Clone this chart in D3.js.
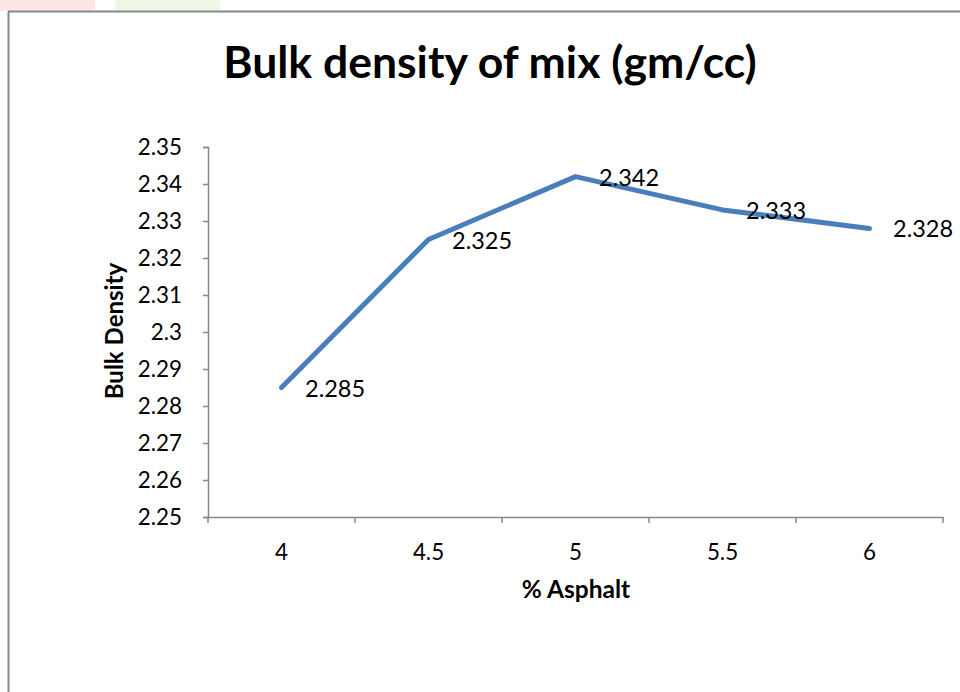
<!DOCTYPE html>
<html>
<head>
<meta charset="utf-8">
<script src="https://cdn.jsdelivr.net/npm/d3@7"></script>
<style>
  body { margin: 0; background: #fff; }
  svg { display: block; font-family: Lato, "Open Sans", sans-serif; }
</style>
</head>
<body>
<svg></svg>
<script>
var WIDTH = 960;
var HEIGHT = 692;

var categories = ["4", "4.5", "5", "5.5", "6"];
var density = [2.285, 2.325, 2.342, 2.333, 2.328];
var yTicks = [2.25, 2.26, 2.27, 2.28, 2.29, 2.3, 2.31, 2.32, 2.33, 2.34, 2.35];

var plotLeft = 208, plotRight = 943, plotTop = 147, plotBottom = 517;

var svg = d3.select("svg")
    .attr("width", WIDTH)
    .attr("height", HEIGHT);

// faint page bits above the frame
svg.append("rect").attr("x", 0).attr("y", 0).attr("width", 95).attr("height", 11).attr("fill", "#fde6e6");
svg.append("rect").attr("x", 115).attr("y", 0).attr("width", 105).attr("height", 11).attr("fill", "#eef7e6");

// frame
svg.append("line")
    .attr("x1", 8.5).attr("x2", 8.5).attr("y1", 11.5).attr("y2", HEIGHT)
    .attr("stroke", "#878787").attr("stroke-width", 2);
svg.append("line")
    .attr("x1", 8).attr("x2", WIDTH).attr("y1", 11.5).attr("y2", 11.5)
    .attr("stroke", "#878787").attr("stroke-width", 2);

var xScale = d3.scaleBand()
    .domain(categories)
    .range([plotLeft, plotRight]);

var yScale = d3.scaleLinear()
    .domain([2.25, 2.35])
    .range([plotBottom, plotTop]);

// y axis
var yAxis = d3.axisLeft(yScale)
    .tickValues(yTicks)
    .tickSize(5)
    .tickPadding(21)
    .tickFormat(function(d) { return d3.format("")(+d.toFixed(2)); });

var gy = svg.append("g")
    .attr("transform", "translate(" + plotLeft + ",0)")
    .call(yAxis);
gy.select(".domain").attr("stroke", "#898989").attr("stroke-width", 1.5);
gy.selectAll(".tick line").attr("stroke", "#898989").attr("stroke-width", 1.5);
gy.selectAll("text")
    .attr("font-size", 22.4)
    .attr("fill", "#000")
    .attr("font-family", "Lato, sans-serif");

// x axis
var xAxis = d3.axisBottom(xScale).tickSize(0);
var gx = svg.append("g")
    .attr("transform", "translate(0," + plotBottom + ")")
    .call(xAxis);
gx.select(".domain").attr("stroke", "#898989").attr("stroke-width", 1.5);
gx.selectAll("text")
    .attr("y", 43)
    .attr("dy", 0)
    .attr("font-size", 22.4)
    .attr("fill", "#000")
    .attr("font-family", "Lato, sans-serif");

// x tick marks at band edges
var edges = categories.map(function(c) { return xScale(c); }).concat([xScale.range()[1]]);
gx.selectAll(".edge")
    .data(edges)
    .enter()
    .append("line")
    .attr("class", "edge")
    .attr("x1", function(d) { return d; })
    .attr("x2", function(d) { return d; })
    .attr("y1", 0)
    .attr("y2", 6)
    .attr("stroke", "#898989")
    .attr("stroke-width", 1.5);

// line
var line = d3.line()
    .x(function(d, i) { return xScale(categories[i]) + xScale.bandwidth() / 2; })
    .y(function(d) { return yScale(d); });

svg.append("path")
    .datum(density)
    .attr("d", line)
    .attr("fill", "none")
    .attr("stroke", "#4a7ebb")
    .attr("stroke-width", 5)
    .attr("stroke-linejoin", "round")
    .attr("stroke-linecap", "round");

// data labels
svg.selectAll(".dlabel")
    .data(density)
    .enter()
    .append("text")
    .attr("class", "dlabel")
    .attr("x", function(d, i) { return xScale(categories[i]) + xScale.bandwidth() / 2 + 23.5; })
    .attr("y", function(d) { return yScale(d) + 9; })
    .attr("font-size", 23.5)
    .attr("fill", "#000")
    .text(function(d) { return d3.format(".3f")(d); });

// title
svg.append("text")
    .attr("x", 490)
    .attr("y", 78)
    .attr("text-anchor", "middle")
    .attr("font-size", 44.5)
    .attr("font-weight", "bold")
    .text("Bulk density of mix (gm/cc)");

// axis titles
svg.append("text")
    .attr("x", 576)
    .attr("y", 598)
    .attr("text-anchor", "middle")
    .attr("font-size", 24.5)
    .attr("font-weight", "bold")
    .text("% Asphalt");

svg.append("text")
    .attr("transform", "translate(123,331) rotate(-90)")
    .attr("text-anchor", "middle")
    .attr("font-size", 24)
    .attr("font-weight", "bold")
    .text("Bulk Density");
</script>
</body>
</html>
